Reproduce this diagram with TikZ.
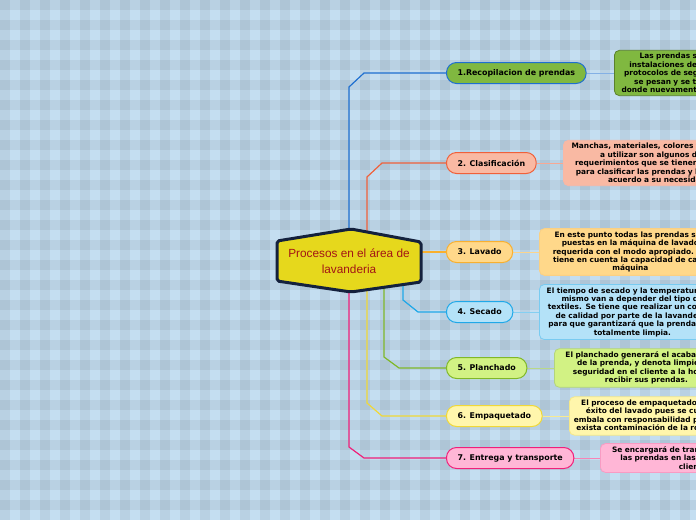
\documentclass[tikz,border=0pt]{standalone}
\usepackage{fontspec}
\setmainfont{DejaVu Sans}
\newfontfamily\hubfont{Liberation Sans}
\definecolor{paper}{HTML}{C4DEF1}
\definecolor{hubfill}{HTML}{E6D81C}
\definecolor{hubline}{HTML}{14213D}
\definecolor{hubtext}{HTML}{A31515}
\definecolor{cA}{HTML}{1E6FD0}
\definecolor{cB}{HTML}{F0603A}
\definecolor{cC}{HTML}{F8B030}
\definecolor{cD}{HTML}{20A8E8}
\definecolor{cE}{HTML}{80B828}
\definecolor{cF}{HTML}{F0D838}
\definecolor{cG}{HTML}{F0207A}
\definecolor{fA}{HTML}{80B840}
\definecolor{fB}{HTML}{F9B9A3}
\definecolor{fC}{HTML}{FFD88A}
\definecolor{fD}{HTML}{B4E2F8}
\definecolor{fE}{HTML}{D2F284}
\definecolor{fF}{HTML}{FFF6AC}
\definecolor{fG}{HTML}{FFB6D6}
\pgfdeclarelayer{back}
\pgfdeclarelayer{links}
\pgfdeclarelayer{hubback}
\pgfsetlayers{back,links,hubback,main}
\tikzset{
  stripe/.style={fill=black, fill opacity=0.055},
  hub/.style={fill=hubfill, draw=hubline, line width=3pt, rounded corners=2pt, line join=round},
  hublabel/.style={font=\hubfont\fontsize{11.8}{15.5}\selectfont, text=hubtext, align=center},
  branch/.style={line width=1.2pt, draw=#1},
  twig/.style={line width=0.8pt, draw=#1!55!white},
  topic/.style 2 args={anchor=west, rounded corners=10pt, fill=#1, draw=#2, line width=1pt,
    minimum height=21pt, inner xsep=11pt, font=\bfseries\fontsize{7.9}{9}\selectfont},
  detail/.style n args={3}{anchor=west, rounded corners=5pt, fill=#1, draw=#2, line width=0.8pt,
    text width=#3, align=center, inner xsep=4pt, inner ysep=3pt, font=\bfseries\fontsize{7.4}{8.4}\selectfont},
}
\begin{document}
\begin{tikzpicture}[x=1pt, y=-1pt]
\useasboundingbox (0,0) rectangle (696,520);
\clip (0,0) rectangle (696,520);
\begin{pgfonlayer}{back}
\fill[paper] (0,0) rectangle (696,520);
\foreach \i in {0,20,...,680} \fill[stripe] (\i,0) rectangle ++(10,520);
\foreach \j in {0,20,...,500} \fill[stripe] (0,\j) rectangle ++(696,10);
\end{pgfonlayer}

% centre
\node[hublabel] (hub) at (349,261) {Procesos en el área de\\lavanderia};
\begin{pgfonlayer}{hubback}
\draw[hub] ([shift={(-72,-20)}]hub.center) -- ([shift={(2,-32)}]hub.center) -- ([shift={(72,-19)}]hub.center)
  -- ([shift={(72,21)}]hub.center) -- ([shift={(2,31)}]hub.center) -- ([shift={(-72,20)}]hub.center) -- cycle;
\end{pgfonlayer}

% steps
\node[topic={fA}{cA}] (t1) at (446,73) {1.Recopilacion de prendas};
\node[topic={fB}{cB}] (t2) at (446,163) {2. Clasificación};
\node[topic={fC}{cC}] (t3) at (446,252) {3. Lavado};
\node[topic={fD}{cD}] (t4) at (446,312) {4. Secado};
\node[topic={fE}{cE}] (t5) at (446,368) {5. Planchado};
\node[topic={fF}{cF}] (t6) at (446,416) {6. Empaquetado};
\node[topic={fG}{cG}] (t7) at (446,458) {7. Entrega y transporte};

% notes
\node[detail={fA}{fA!70!black}{178pt}] (d1) at (614,73) {Las prendas son recibidas en las\\instalaciones de la lavandería con los\\protocolos de seguridad adecuados, ahí\\se pesan y se trasladan a otra área\\donde nuevamente se revisan una a una.};
\node[detail={fB}{cB!45!white}{182pt}] (d2) at (563,163) {Manchas, materiales, colores y productos\\a utilizar son algunos de los\\requerimientos que se tienen en cuenta\\para clasificar las prendas y lavarlas de\\acuerdo a su necesidad.};
\node[detail={fC}{cC!60!white}{174pt}] (d3) at (539,252) {En este punto todas las prendas son\\puestas en la máquina de lavado\\requerida con el modo apropiado. Se\\tiene en cuenta la capacidad de cada\\máquina};
\node[detail={fD}{cD!60!white}{178pt}] (d4) at (539,312) {El tiempo de secado y la temperatura del\\mismo van a depender del tipo de\\textiles. Se tiene que realizar un control\\de calidad por parte de la lavandería\\para que garantizará que la prenda esté\\totalmente limpia.};
\node[detail={fE}{cE!60!white}{176pt}] (d5) at (554,368) {El planchado generará el acabado final\\de la prenda, y denota limpieza y\\seguridad en el cliente a la hora de\\recibir sus prendas.};
\node[detail={fF}{cF!60!white}{170pt}] (d6) at (569,416) {El proceso de empaquetado define el\\éxito del lavado pues se cuida y se\\embala con responsabilidad para que no\\exista contaminación de la ropa limpia.};
\node[detail={fG}{cG!45!white}{180pt}] (d7) at (600,458) {Se encargará de transportar y entregar\\las prendas en las instalaciones del\\cliente.};

\begin{pgfonlayer}{links}
\draw[branch=cA] (hub.center) -- ++(0,-174) -- ++(15,-14) -- (t1.west);
\draw[branch=cB] ([xshift=18pt]hub.center) -- ++(0,-84) -- ++(15,-14) -- (t2.west);
\draw[branch=cC] ([yshift=9pt]hub.center) -- (t3.west);
\draw[branch=cD] ([xshift=54pt]hub.center) -- ++(0,39) -- ++(15,12) -- (t4.west);
\draw[branch=cE] ([xshift=35pt]hub.center) -- ++(0,96) -- ++(15,11) -- (t5.west);
\draw[branch=cF] ([xshift=18pt]hub.center) -- ++(0,142) -- ++(15,13) -- (t6.west);
\draw[branch=cG] (hub.center) -- ++(0,186) -- ++(15,11) -- (t7.west);
\draw[twig=cA] (t1.east) -- (d1.west);
\draw[twig=cB] (t2.east) -- (d2.west);
\draw[twig=cC] (t3.east) -- (d3.west);
\draw[twig=cD] (t4.east) -- (d4.west);
\draw[twig=cE] (t5.east) -- (d5.west);
\draw[twig=cF] (t6.east) -- (d6.west);
\draw[twig=cG] (t7.east) -- (d7.west);
\end{pgfonlayer}
\end{tikzpicture}
\end{document}
